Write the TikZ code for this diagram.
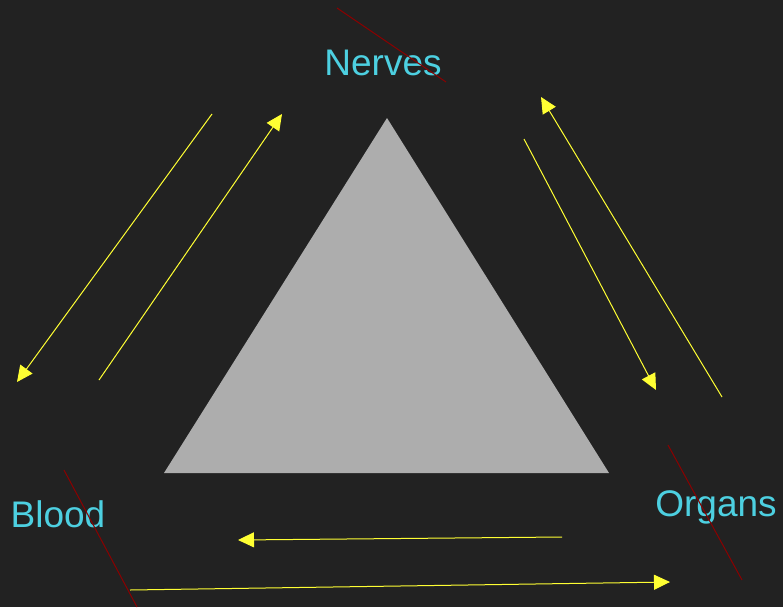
\documentclass[tikz,border=0pt]{standalone}
\usepackage{fontspec}
\setmainfont{Liberation Sans}
\usetikzlibrary{arrows.meta}
\definecolor{bg}{HTML}{222222}
\definecolor{tri}{HTML}{ADADAD}
\definecolor{lbl}{HTML}{4DD0E1}
\definecolor{ylw}{HTML}{FFFF33}
\definecolor{dred}{HTML}{8B0000}
\begin{document}
\begin{tikzpicture}[x=1pt,y=-1pt,
  label/.style={text=lbl,font=\fontsize{37}{40}\selectfont,anchor=base,inner sep=0pt},
  flow/.style={draw=ylw,line width=1pt,-{Triangle[length=16pt,width=15pt]}},
  strike/.style={draw=dred,line width=1pt}]
\fill[bg] (0,0) rectangle (783,607);
\useasboundingbox (0,0) rectangle (783,607);
\fill[tri] (387,118) -- (164,473) -- (609,473) -- cycle;
\node[label] (nerves) at (383,76) {Nerves};
\node[label] (blood) at (58,527) {Blood};
\node[label] (organs) at (716,516) {Organs};
% strike lines
\coordinate (n1) at (337,8); \coordinate (n2) at (446,82);
\coordinate (b1) at (64,470); \coordinate (b2) at (137,607);
\coordinate (o1) at (668,445); \coordinate (o2) at (742,580);
\draw[strike] (n1) -- (n2);
\draw[strike] (b1) -- (b2);
\draw[strike] (o1) -- (o2);
% arrows
\coordinate (a1s) at (212,114); \coordinate (a1e) at (17,382);
\coordinate (a2s) at (99,380); \coordinate (a2e) at (282,114);
\coordinate (a3s) at (524,139); \coordinate (a3e) at (656,390);
\coordinate (a4s) at (722,397); \coordinate (a4e) at (541,97);
\coordinate (a5s) at (562,537); \coordinate (a5e) at (238,540);
\coordinate (a6s) at (130,590); \coordinate (a6e) at (670,582);
\draw[flow] (a1s) -- (a1e);
\draw[flow] (a2s) -- (a2e);
\draw[flow] (a3s) -- (a3e);
\draw[flow] (a4s) -- (a4e);
\draw[flow] (a5s) -- (a5e);
\draw[flow] (a6s) -- (a6e);
\end{tikzpicture}
\end{document}
